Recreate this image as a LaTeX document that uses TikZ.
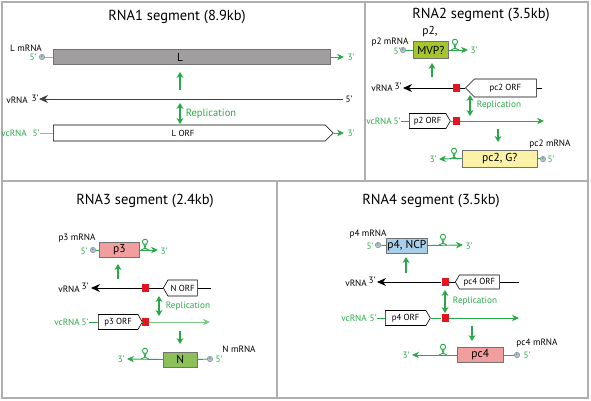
\documentclass[tikz,border=0pt]{standalone}
\usepackage{fontspec}
\setmainfont{PT Sans}
\usepackage{tikz}
\usetikzlibrary{shapes.symbols,arrows.meta}

\definecolor{rnagreen}{RGB}{40,168,72}
\definecolor{lightgreen}{RGB}{125,200,135}
\definecolor{capblue}{RGB}{175,195,205}
\definecolor{boxgray}{RGB}{160,158,158}
\definecolor{boxolive}{RGB}{165,196,45}
\definecolor{boxpink}{RGB}{240,158,158}
\definecolor{boxblue}{RGB}{168,206,234}
\definecolor{boxyellow}{RGB}{251,242,168}
\definecolor{boxleaf}{RGB}{140,192,88}
\definecolor{sitered}{RGB}{230,20,30}
\definecolor{framegray}{RGB}{175,175,175}

\begin{document}
\begin{tikzpicture}
  [x=1pt,y=-1pt,
   every node/.style={inner sep=0pt,font=\fontsize{9.2}{11}\selectfont},
   title/.style={font=\fontsize{14.5}{17}\selectfont},
   gtext/.style={text=rnagreen},
   big/.style={font=\fontsize{11.5}{13}\selectfont},
   gene/.style={rectangle,draw=black!55,line width=.6pt,minimum height=15pt,big},
   orf/.style={signal,draw=black,line width=.6pt,fill=white,minimum height=15pt,
     signal pointer angle=120,font=\fontsize{8.8}{10}\selectfont},
   orfR/.style={orf,signal to=east},
   orfL/.style={orf,signal to=west},
   capdot/.style={circle,draw=capblue!60!black,line width=.3pt,fill=capblue,
     minimum size=5.5pt,font=\fontsize{3}{3}\selectfont},
   site/.style={rectangle,fill=sitered,minimum width=7pt,minimum height=8pt},
   gline/.style={rnagreen,line width=.9pt},
   vline/.style={black,line width=.9pt},
   endtip/.style={-{Stealth[length=7pt,width=6.5pt]}},
   vrnatip/.style={-{Stealth[length=9pt,width=8pt]}},
   flow/.style={rnagreen,line width=1.4pt,-{Stealth[length=6pt,width=7pt]}},
   rep/.style={rnagreen,line width=1.4pt,{Stealth[length=6pt,width=7pt]}-{Stealth[length=6pt,width=7pt]}},
   stemloop/.pic={
     \draw[gline] (-4,0) to[out=0,in=-90] (1.3,-5.8);
     \draw[gline] (4,0) to[out=180,in=-90] (-1.3,-5.8);
     \draw[gline] (0,-8.2) circle (2.6);}]

  \useasboundingbox (0,0) rectangle (591,400);

  % panels
  \draw[framegray,line width=1.5pt] (2,2) rectangle (588,398);
  \draw[framegray,line width=1.2pt] (2,181) -- (588,181);
  \draw[framegray,line width=1.2pt] (365,2) -- (365,181);
  \draw[framegray,line width=1.2pt] (277,181) -- (277,398);

  % RNA1
  \node[title] (t1) at (177,17) {RNA1 segment (8.9kb)};
  \node (m1) at (26,48) {L mRNA};
  \node[gtext] (m1five) at (33,57) {5'};
  \node[capdot] (c1) at (42,57) {c};
  \node[gene,fill=boxgray,minimum width=277pt,anchor=west] (L) at (53,57) {};
  \node[big] (Ltxt) at (180,57) {L};
  \coordinate (L3) at (344,57);
  \node[gtext] (L3txt) at (351,57) {3'};
  \draw[lightgreen,line width=.9pt] (c1) -- (L.west);
  \draw[gline,endtip] (L.east) -- (L3);
  \coordinate (u1a) at (180,90);
  \coordinate (u1b) at (180,72);
  \draw[flow] (u1a) -- (u1b);

  \node[anchor=east] (v1) at (28,100) {vRNA};
  \node (v1three) at (35,98) {3'};
  \coordinate (v1tip) at (39,99);
  \coordinate (v1end) at (343,99);
  \node (v1five) at (349,99) {5'};
  \draw[black!75,line width=.9pt,vrnatip] (v1end) -- (v1tip);

  \coordinate (r1a) at (180,103);
  \coordinate (r1b) at (180,124);
  \draw[rep] (r1a) -- (r1b);
  \node[gtext,font=\fontsize{10.5}{12}\selectfont] (rep1) at (211,114) {Replication};

  \node[gtext,anchor=east] (vc1) at (27,133) {vcRNA};
  \node[gtext] (vc1five) at (36,133) {5'};
  \node[orfR,minimum width=280pt,minimum height=16pt,signal pointer angle=90,anchor=west] (O1) at (53,133) {};
  \node[font=\fontsize{8.8}{10}\selectfont] (O1txt) at (183,133) {L ORF};
  \coordinate (O1end) at (344,133);
  \node[gtext] (O1three) at (351,133) {3'};
  \draw[lightgreen,line width=.9pt] (vc1five) -- (O1.west);
  \draw[gline,endtip] (O1.east) -- (O1end);

  % RNA2
  \node[title] (t2) at (481,15) {RNA2 segment (3.5kb)};
  \node (m2) at (390,42) {p2 mRNA};
  \node[big] (p2name) at (430,32) {p2,};
  \node[gtext] (m2five) at (397,51) {5'};
  \node[capdot] (c2) at (403,50) {c};
  \node[gene,fill=boxolive,minimum width=35pt,minimum height=17pt,anchor=west] (p2) at (413,50) {MVP?};
  \coordinate (p2end) at (468,50);
  \node[gtext] (p2three) at (474,50) {3'};
  \draw[gline] (c2) -- (p2.west);
  \draw[gline,endtip] (p2.east) -- (p2end);
  \pic at (455,50) {stemloop};
  \coordinate (u2a) at (432,77);
  \coordinate (u2b) at (432,63);
  \draw[flow] (u2a) -- (u2b);

  \node[anchor=east] (v2) at (393,88) {vRNA};
  \node (v2three) at (398,86) {3'};
  \coordinate (v2tip) at (403,88);
  \node[site] (s2a) at (456.5,88) {};
  \node[orfL,minimum width=71pt,minimum height=18pt,signal pointer angle=90,anchor=west] (O2a) at (465,88) {pc2 ORF};
  \coordinate (v2end) at (542,88);
  \draw[vline] (O2a.east) -- (v2end);
  \draw[vline] (O2a.west) -- (s2a);
  \draw[vline,vrnatip] (s2a) -- (v2tip);

  \coordinate (r2a) at (470,95);
  \coordinate (r2b) at (470,116);
  \draw[rep] (r2a) -- (r2b);
  \node[gtext] (rep2) at (499,105) {Replication};

  \node[gtext,anchor=east] (vc2) at (392,121) {vcRNA};
  \node[gtext] (vc2five) at (397,121) {5'};
  \node[orfR,minimum width=41pt,anchor=west] (O2b) at (409,121) {p2 ORF};
  \node[site] (s2b) at (456.5,121) {};
  \coordinate (vc2end) at (544,121);
  \draw[gline] (vc2five) -- (O2b.west);
  \draw[gline] (O2b.east) -- (s2b);
  \draw[gline,endtip] (s2b) -- (vc2end);

  \coordinate (d2a) at (498,129);
  \coordinate (d2b) at (498,142);
  \draw[flow] (d2a) -- (d2b);

  \node (m2b) at (550,144) {pc2 mRNA};
  \node[gene,fill=boxyellow,minimum width=75pt,minimum height=17pt,anchor=west] (pc2) at (462,158.5) {pc2, G?};
  \node[capdot] (c2b) at (543,159) {c};
  \node[gtext] (m2bfive) at (551,159) {5'};
  \coordinate (pc2end) at (439,159);
  \node[gtext] (pc2three) at (433,159) {3'};
  \draw[gline] (c2b) -- (pc2.east);
  \draw[gline,endtip] (pc2.west) -- (pc2end);
  \pic at (454,159) {stemloop};

  % RNA3
  \node[title] (t3) at (145,201) {RNA3 segment (2.4kb)};
  \node (m3) at (77,238) {p3 mRNA};
  \node[gtext] (m3five) at (84,251) {5'};
  \node[capdot] (c3) at (93,250) {c};
  \node[gene,fill=boxpink,minimum width=40pt,anchor=west] (p3) at (99,250) {p3};
  \coordinate (p3end) at (158,250);
  \node[gtext] (p3three) at (164,251) {3'};
  \draw[gline] (c3) -- (p3.west);
  \draw[gline,endtip] (p3.east) -- (p3end);
  \pic at (145,250) {stemloop};
  \coordinate (u3a) at (118,279);
  \coordinate (u3b) at (118,264);
  \draw[flow] (u3a) -- (u3b);

  \node[anchor=east] (v3) at (80,289) {vRNA};
  \node (v3three) at (85,286) {3'};
  \coordinate (v3tip) at (91,288);
  \node[site] (s3a) at (145.5,288) {};
  \node[orfL,minimum width=34pt,minimum height=16pt,anchor=west] (O3a) at (163,288) {N ORF};
  \coordinate (v3end) at (211,288);
  \draw[vline] (O3a.east) -- (v3end);
  \draw[vline] (O3a.west) -- (s3a);
  \draw[vline,vrnatip] (s3a) -- (v3tip);

  \coordinate (r3a) at (159,296);
  \coordinate (r3b) at (159,316);
  \draw[rep] (r3a) -- (r3b);
  \node[gtext] (rep3) at (188,306) {Replication};

  \node[gtext,anchor=east] (vc3) at (80,322) {vcRNA};
  \node[gtext] (vc3five) at (85,322) {5'};
  \node[orfR,minimum width=44pt,anchor=west] (O3b) at (98,322) {p3 ORF};
  \node[site] (s3b) at (145.5,322) {};
  \coordinate (vc3end) at (210,322);
  \draw[gline] (vc3five) -- (O3b.west);
  \draw[gline] (O3b.east) -- (s3b);
  \draw[lightgreen,line width=1pt,endtip] (s3b) -- (vc3end);

  \coordinate (d3a) at (180,331);
  \coordinate (d3b) at (180,344);
  \draw[flow] (d3a) -- (d3b);

  \node (m3b) at (239,349) {N mRNA};
  \node[gene,fill=boxleaf,minimum width=34pt,anchor=west] (N) at (163,359.5) {N};
  \node[capdot] (c3b) at (210,359) {c};
  \node[gtext] (m3bfive) at (219,359) {5'};
  \coordinate (Nend) at (127,359);
  \node[gtext] (Nthree) at (121,359) {3'};
  \draw[gline] (c3b) -- (N.east);
  \draw[gline,endtip] (N.west) -- (Nend);
  \pic at (145,359) {stemloop};

  % RNA4
  \node[title] (t4) at (431,201) {RNA4 segment (3.5kb)};
  \node (m4) at (368,234) {p4 mRNA};
  \node[gtext] (m4five) at (370,246) {5'};
  \node[capdot] (c4) at (378,245) {c};
  \node[gene,fill=boxblue,minimum width=41pt,anchor=west] (p4) at (386,245.5) {p4, NCP};
  \coordinate (p4end) at (463,245);
  \node[gtext] (p4three) at (469,246) {3'};
  \draw[gline] (c4) -- (p4.west);
  \draw[gline,endtip] (p4.east) -- (p4end);
  \pic at (443,245) {stemloop};
  \coordinate (u4a) at (406,273);
  \coordinate (u4b) at (406,257);
  \draw[flow] (u4a) -- (u4b);

  \node[anchor=east] (v4) at (367,283) {vRNA};
  \node (v4three) at (372,280) {3'};
  \coordinate (v4tip) at (377,282);
  \node[site] (s4a) at (445,282) {};
  \node[orfL,minimum width=44pt,minimum height=14pt,anchor=west] (O4a) at (455,282) {pc4 ORF};
  \coordinate (v4end) at (519,282);
  \draw[vline] (O4a.east) -- (v4end);
  \draw[vline] (O4a.west) -- (s4a);
  \draw[vline,vrnatip] (s4a) -- (v4tip);

  \coordinate (r4a) at (445,290);
  \coordinate (r4b) at (445,313);
  \draw[rep] (r4a) -- (r4b);
  \node[gtext] (rep4) at (475,301) {Replication};

  \node[gtext,anchor=east] (vc4) at (367,318) {vcRNA};
  \node[gtext] (vc4five) at (373,318) {5'};
  \node[orfR,minimum width=45pt,anchor=west] (O4b) at (385,318) {p4 ORF};
  \node[site] (s4b) at (445,318) {};
  \coordinate (vc4end) at (519,318);
  \draw[gline] (vc4five) -- (O4b.west);
  \draw[gline] (O4b.east) -- (s4b);
  \draw[gline,endtip] (s4b) -- (vc4end);

  \coordinate (d4a) at (472,326);
  \coordinate (d4b) at (472,341);
  \draw[flow] (d4a) -- (d4b);

  \node (m4b) at (537,343) {pc4 mRNA};
  \node[gene,fill=boxpink,minimum width=46pt,anchor=west] (pc4) at (457,355) {pc4};
  \node[capdot] (c4b) at (517,355) {c};
  \node[gtext] (m4bfive) at (527,355) {5'};
  \coordinate (pc4end) at (412,355);
  \node[gtext] (pc4three) at (406,355) {3'};
  \draw[gline] (c4b) -- (pc4.east);
  \draw[gline,endtip] (pc4.west) -- (pc4end);
  \pic at (443,355) {stemloop};

\end{tikzpicture}
\end{document}
